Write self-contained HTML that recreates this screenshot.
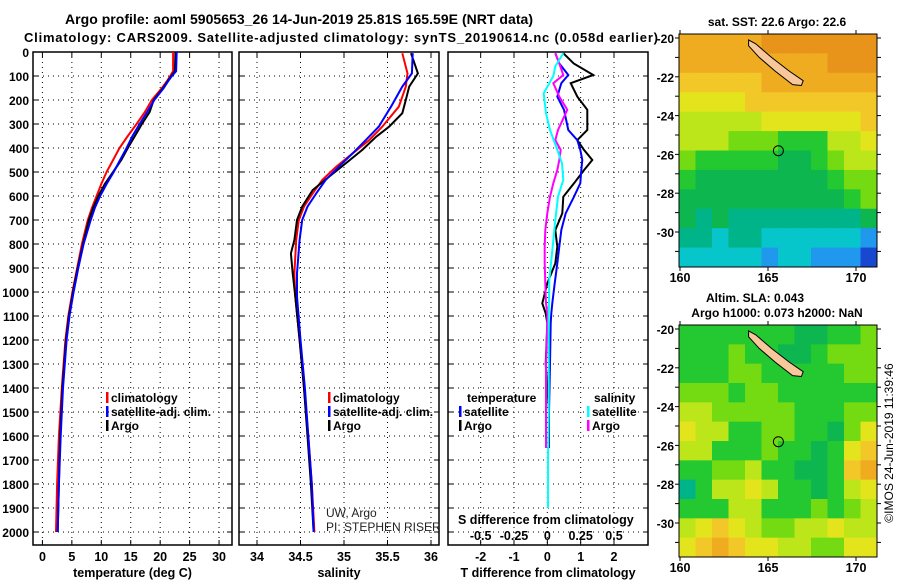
<!DOCTYPE html>
<html><head><meta charset="utf-8"><style>
html,body{margin:0;padding:0;background:#fff;}
svg{display:block;font-family:"Liberation Sans",sans-serif;}
</style></head><body>
<svg id="fig" width="900" height="580" viewBox="0 0 900 580"></svg>
<script>
// ---------- DATA ----------
const depthTicks=[0,100,200,300,400,500,600,700,800,900,1000,1100,1200,1300,1400,1500,1600,1700,1800,1900,2000];
const tTicks=[0,5,10,15,20,25,30];
const sTicks=[34,34.5,35,35.5,36];
const dTTicks=[-2,-1,0,1,2];
const dSTicks=[-0.5,-0.25,0,0.25,0.5];
const dSLabels=["-0.5","-0.25","0","0.25","0.5"];

const tempDepth=[0,80,100,120,150,200,250,300,350,400,450,500,550,600,650,700,800,900,1000,1100,1200,1400,1600,1800,2000];
const tempArgo=[22.6,22.5,21.9,21.3,20.5,18.9,18.2,16.9,15.7,14.5,13.4,12.0,10.6,9.5,8.6,7.9,6.9,6.0,5.2,4.5,4.0,3.4,3.0,2.8,2.6];
const tempClim=[22.2,22.2,21.7,21.2,20.3,18.6,17.4,16.0,14.5,13.1,12.0,10.9,10.0,9.2,8.4,7.7,6.7,5.9,5.1,4.4,3.9,3.3,2.8,2.5,2.3];
const tempSat=[22.8,22.7,22.0,21.4,20.6,19.0,17.8,16.5,15.3,14.3,13.2,12.1,10.9,9.8,8.9,8.2,7.0,6.1,5.3,4.6,4.1,3.5,3.1,2.8,2.6];

const salDepthArgo=[5,89,144,200,255,311,353,408,464,519,575,644,700,783,839,922,1019,1200,1400,1600,1800,2000];
const salArgo=[35.77,35.85,35.75,35.71,35.67,35.52,35.37,35.21,35.02,34.83,34.64,34.52,34.46,34.43,34.39,34.41,34.44,34.49,34.54,34.58,34.62,34.65];
const salDepth=[5,89,144,228,311,367,422,478,533,589,644,700,783,922,1019,1200,1400,1600,1800,2000];
const salClim=[35.67,35.73,35.71,35.63,35.44,35.29,35.10,34.91,34.75,34.64,34.54,34.48,34.45,34.43,34.44,34.49,34.54,34.59,34.63,34.66];
const salSat=[35.79,35.78,35.67,35.54,35.40,35.25,35.10,34.94,34.79,34.68,34.58,34.52,34.49,34.46,34.46,34.50,34.55,34.59,34.63,34.65];

const dDepth=[5,48,96,130,186,241,325,367,408,450,492,547,603,672,742,811,881,964,1047,1089,1130,1300,1500,1650];
const dTArgo=[0.48,0.79,1.38,0.70,0.90,1.20,1.20,0.90,1.10,1.35,1.10,0.80,0.48,0.45,0.24,0.30,0.24,0.0,-0.15,-0.05,0.0,-0.05,0.05,0.05];
const dTSat=[0.24,0.36,0.63,0.42,0.30,0.50,0.63,0.90,0.99,1.05,1.02,0.99,0.80,0.55,0.42,0.36,0.30,0.22,0.15,0.12,0.10,0.08,0.05,0.04];
const dSArgo=[0.06,0.09,0.12,0.045,0.09,0.15,0.08,0.06,0.10,0.09,0.075,0.045,0.02,0.0,-0.015,-0.02,-0.02,-0.015,-0.01,0.0,0.0,-0.01,-0.01,-0.01];
const dSSatDepth=[5,60,100,172,255,325,400,464,533,603,700,811,950,1100,1300,1500,1700,1900];
const dSSat=[0.12,0.06,0.045,-0.027,-0.01,0.02,0.07,0.11,0.12,0.08,0.06,0.04,0.015,0.01,0.01,0.01,0.005,0.005];

const palette=["#e8941a","#f0ac20","#f2c828","#e4e41c","#bce61a","#74da12","#24c830","#0eb650","#00b48a","#06c6cc","#2098ee","#1848d0"];
const sstGrid=[
[1,1,1,1,1,0,0,0,0,0,0,0],[1,1,1,1,1,1,1,1,1,0,0,0],[2,2,2,2,2,1,1,1,1,1,1,1],[3,3,3,3,2,2,2,2,2,2,2,2],
[4,4,4,4,4,3,3,3,3,3,3,2],[4,4,4,5,5,5,6,6,6,4,4,3],[5,6,6,6,6,6,7,7,6,5,4,4],[6,7,7,7,7,7,7,7,7,6,5,5],
[7,7,7,7,7,7,7,7,7,7,6,5],[7,8,7,8,8,8,8,8,8,8,8,7],[8,8,9,8,8,9,9,9,9,9,9,10],[9,9,9,9,9,10,9,9,10,10,10,11]];
const slaGrid=[
[6,6,6,6,6,6,6,7,7,6,6,5],[6,6,6,5,6,6,7,7,6,5,5,5],[6,6,6,5,5,6,6,6,6,6,5,5],[5,5,5,6,5,5,6,6,6,6,6,6],
[4,4,5,5,5,5,5,6,6,6,5,5],[3,4,4,6,6,5,5,6,6,7,5,3],[4,4,6,6,6,5,6,6,7,6,3,2],[6,6,5,5,4,6,6,7,7,6,2,1],
[8,6,4,4,3,4,6,6,7,6,4,3],[6,6,6,4,4,6,6,6,5,6,5,4],[4,3,2,3,4,5,5,4,4,3,4,4],[3,2,1,2,3,3,4,4,5,5,3,3]];
const island=[[163.9,-20.1],[164.3,-20.3],[165.2,-21.0],[166.2,-21.7],[167.0,-22.2],[166.9,-22.45],[166.4,-22.4],[165.4,-21.7],[164.5,-21.0],[163.9,-20.4]];
const floatPos=[165.59,-25.81];

// ---------- HELPERS ----------
const NS="http://www.w3.org/2000/svg";
const svgRoot=document.getElementById('fig');
function el(tag,attrs,parent){const e=document.createElementNS(NS,tag);for(const k in attrs)e.setAttribute(k,attrs[k]);(parent||svgRoot).appendChild(e);return e;}
function txt(s,x,y,size,anchor,weight,parent){const t=el('text',{x:x,y:y,'font-size':size,'text-anchor':anchor||'start','font-weight':weight||'bold',fill:'#000'},parent);t.textContent=s;return t;}

const yTop=52,yBot=545;
const yD=d=>yTop+d*0.24;

function panel(name,x0,x1,vmin,vmax,ticks,labels,xlabel){
  const g=el('g',{});
  
  
  const sx=v=>x0+(v-vmin)/(vmax-vmin)*(x1-x0);
  ticks.forEach(v=>{const l=el('line',{x1:sx(v),x2:sx(v),y1:yTop,y2:yBot,stroke:'#000','stroke-width':1,'stroke-dasharray':'1,4'},g);
    });
  depthTicks.forEach(d=>{const l=el('line',{x1:x0,x2:x1,y1:yD(d),y2:yD(d),stroke:'#000','stroke-width':1,'stroke-dasharray':'1,4'},g);
    
    el('line',{x1:x0,x2:x0+5,y1:yD(d),y2:yD(d),stroke:'#000'},g);el('line',{x1:x1-5,x2:x1,y1:yD(d),y2:yD(d),stroke:'#000'},g);});
  ticks.forEach((v,i)=>{el('line',{x1:sx(v),x2:sx(v),y1:yBot,y2:yBot-5,stroke:'#000'},g);el('line',{x1:sx(v),x2:sx(v),y1:yTop,y2:yTop+5,stroke:'#000'},g);
    if(labels){const t=txt(labels[i],sx(v),561,12.5,'middle','bold',g);}});
  const fr=el('rect',{x:x0,y:yTop,width:x1-x0,height:yBot-yTop,fill:'none',stroke:'#000','stroke-width':1.5},g);
  
  if(xlabel){const t=txt(xlabel,(x0+x1)/2,577,12.5,'middle','bold',g);}
  return {g,sx};
}
function line(p,vals,depths,color,name,sxf){
  const pts=vals.map((v,i)=>sxf(v).toFixed(1)+','+yD(depths[i]).toFixed(1)).join(' ');
  const l=el('polyline',{points:pts,fill:'none',stroke:color,'stroke-width':2},p.g);
  
  
}

let t=txt('Argo profile: aoml 5905653_26 14-Jun-2019 25.81S 165.59E (NRT data)',299,24,14,'middle');
t.setAttribute('textLength','468');

t=txt('Climatology: CARS2009. Satellite-adjusted climatology: synTS_20190614.nc (0.058d earlier)',24,42,13,'start');
t.setAttribute('textLength','634');


depthTicks.forEach(d=>{const tl=txt(String(d),29,yD(d)+5,12,'end','bold');});

const p1=panel('temperature-panel',33,232,-1.6,32.2,tTicks,tTicks.map(String),'temperature (deg C)');
line(p1,tempClim,tempDepth,'#f00','temp-climatology-line',p1.sx);
line(p1,tempArgo,tempDepth,'#000','temp-argo-line',p1.sx);
line(p1,tempSat,tempDepth,'#00f','temp-satellite-line',p1.sx);

const p2=panel('salinity-panel',239,439,33.793,36.092,sTicks,["34","34.5","35","35.5","36"],'salinity');
line(p2,salClim,salDepth,'#f00','sal-climatology-line',p2.sx);
line(p2,salArgo,salDepthArgo,'#000','sal-argo-line',p2.sx);
line(p2,salSat,salDepth,'#00f','sal-satellite-line',p2.sx);

const p3=panel('difference-panel',448,648,-2.98,3.02,dTTicks,["-2","-1","0","1","2"],'T difference from climatology');
const sxS=v=>p3.sx(v*4);
line(p3,dTArgo,dDepth,'#000','dT-argo-line',p3.sx);
line(p3,dTSat,dDepth,'#00f','dT-satellite-line',p3.sx);
line(p3,dSArgo,dDepth,'#f0f','dS-argo-line',sxS);
line(p3,dSSat,dSSatDepth,'#0ff','dS-satellite-line',sxS);
t=txt('S difference from climatology',458,524,12.5,'start','bold');
dSTicks.forEach((v,i)=>{const tl=txt(dSLabels[i],sxS(v),540,12.5,'middle','bold');});

function legend(x,y,items,name){
  const g=el('g',{});
  items.forEach((it,i)=>{el('rect',{x:x,y:y+i*14-10,width:2.5,height:11,fill:it[1]},g);
    const tt=txt(it[0],x+5,y+i*14,12,'start','bold',g);});
}
legend(106,402,[['climatology','#f00'],['satellite-adj. clim.','#00f'],['Argo','#000']],'temperature-legend');
legend(328,402,[['climatology','#f00'],['satellite-adj. clim.','#00f'],['Argo','#000']],'salinity-legend');
t=txt('temperature',467,402,12,'start','bold');
legend(459,416,[['satellite','#00f'],['Argo','#000']],'diff-temperature-legend');
t=txt('salinity',594,402,12,'start','bold');
legend(587,416,[['satellite','#0ff'],['Argo','#f0f']],'diff-salinity-legend');

t=txt('UW, Argo',326,517,12,'start','normal');t.setAttribute('fill','#222');
t=txt('PI: STEPHEN RISER',326,531,12,'start','normal');t.setAttribute('fill','#222');

function map(name,grid,y0,y1){
  const x0=679,x1=877;
  const g=el('g',{});
  const lonX=lo=>680+(lo-160)*17.6;
  const latY=la=>(y0+4)+(-20-la)*19.4;
  const rows=grid.length,cols=grid[0].length,cw=(x1-x0)/cols,rh=(y1-y0)/rows;
  grid.forEach((r,i)=>r.forEach((v,j)=>{const c=el('rect',{x:x0+j*cw,y:y0+i*rh,width:cw+0.5,height:rh+0.5,fill:palette[v]},g);
    }));
  const isl=el('polygon',{points:island.map(p=>lonX(p[0]).toFixed(1)+','+latY(p[1]).toFixed(1)).join(' '),fill:'#f8c89a',stroke:'#000','stroke-width':1},g);
  
  const c=el('circle',{cx:lonX(floatPos[0]),cy:latY(floatPos[1]),r:5,fill:'none',stroke:'#000','stroke-width':1},g);
  
  el('rect',{x:x0,y:y0,width:x1-x0,height:y1-y0,fill:'none',stroke:'#000','stroke-width':1},g);
  [-20,-21,-22,-23,-24,-25,-26,-27,-28,-29,-30,-31].forEach(la=>{const y=latY(la);
    el('line',{x1:x0-4,x2:x0,y1:y,y2:y,stroke:'#000'},g);el('line',{x1:x1,x2:x1+4,y1:y,y2:y,stroke:'#000'},g);
    if(la%2===0){const tl=txt(String(la),x0-5,y+5,12,'end','bold',g);}});
  [160,165,170].forEach(lo=>{const x=lonX(lo);el('line',{x1:x,x2:x,y1:y1,y2:y1+4,stroke:'#000'},g);el('line',{x1:x,x2:x,y1:y0-4,y2:y0,stroke:'#000'},g);
    const tl=txt(String(lo),x,y1+15,12.5,'middle','bold',g);});
}
map('sst-map',sstGrid,34,267);
map('sla-map',slaGrid,325,557);
t=txt('sat. SST: 22.6 Argo: 22.6',777,26,12,'middle','bold');
t=txt('Altim. SLA: 0.043',755,302,12,'middle','bold');
t=txt('Argo h1000: 0.073 h2000: NaN',777,317,12,'middle','bold');
t=txt('©IMOS 24-Jun-2019 11:39:46',0,0,12,'middle','normal');
t.setAttribute('transform','translate(893,443) rotate(-90)');

</script>
</body></html>
